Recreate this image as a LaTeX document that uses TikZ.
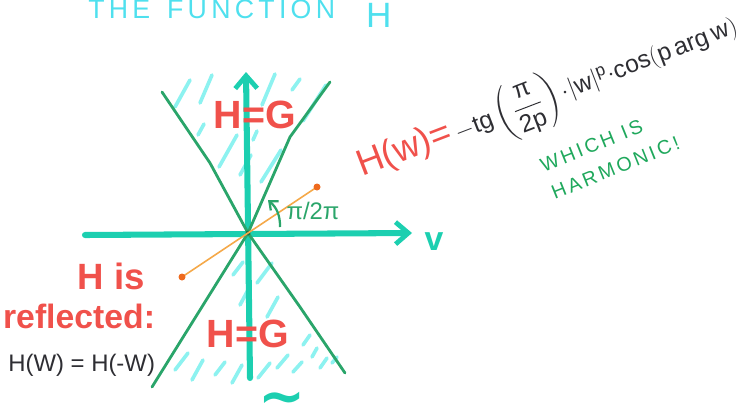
\RequirePackage{fix-cm}
\documentclass[tikz,border=0pt]{standalone}
\usepackage{amsmath}
\usepackage{fontspec}
\setmainfont{Liberation Sans}
\newfontfamily\titlefont[LetterSpace=16]{Liberation Sans}
\newfontfamily\notefont[LetterSpace=15]{Liberation Sans}
\newfontfamily\symfont{DejaVu Sans}
\usetikzlibrary{arrows.meta, positioning}
\definecolor{axisTeal}{HTML}{1CCFB0}
\definecolor{titleCyan}{HTML}{4FE0EE}
\definecolor{hatchCyan}{HTML}{8DF2F0}
\definecolor{coneGreen}{HTML}{2AA56A}
\definecolor{noteGreen}{HTML}{1FA85C}
\definecolor{penRed}{HTML}{F0514B}
\definecolor{penOrange}{HTML}{F5A94A}
\definecolor{dotOrange}{HTML}{EE6A1E}
\definecolor{penBlack}{HTML}{2E2E33}

\begin{document}
\begin{tikzpicture}[
    x=0.025cm, y=-0.025cm,
    axis/.style={draw=axisTeal, line width=4.3pt, line cap=round,
                 -{Straight Barb[length=3.2mm, width=5.5mm, line width=3.4pt]}},
    cone/.style={draw=coneGreen, line width=2pt, line cap=round},
    hatch/.style={draw=hatchCyan, line width=2.6pt, line cap=round},
    ray/.style={draw=penOrange, line width=1.1pt},
    region/.style={text=penRed, font=\bfseries\fontsize{28}{28}\selectfont},
]
\useasboundingbox (0,0) rectangle (740,408);
\clip (0,0) rectangle (740,408);

% Title
\node[text=titleCyan, font=\titlefont\fontsize{19}{22}\selectfont,
      anchor=base west, inner sep=0pt] (title) at (88,18)
    {THE\hspace{12pt}FUNCTION\hspace{22pt}\raisebox{-7pt}{\fontsize{25}{25}\selectfont H}};

% Hatching inside the two cones
\foreach \xa/\ya/\xb/\yb in {175/107/190/80, 200/103/212/75, 198/135/204/124,
    219/167/237/135, 240/175/251/155, 253/140/257/131, 262/105/275/74,
    261/182/281/150, 292/90/300/79, 303/121/326/85}
  \draw[hatch] (\xa,\ya) -- (\xb,\yb);
\foreach \xa/\ya/\xb/\yb in {233/275/243/262, 240/305/248/290, 257/283/272/263,
    267/317/278/297, 175/370/188/353, 192/380/203/360, 215/375/225/362,
    232/383/242/365, 258/378/270/363, 277/368/288/355, 303/345/310/335,
    312/357/317/348, 293/372/302/362, 320/368/327/358, 332/363/337/357}
  \draw[hatch] (\xa,\ya) -- (\xb,\yb);

% Axes
\coordinate (O) at (248,233);
\coordinate (xl) at (85,235);
\coordinate (xr) at (412,233);
\coordinate (yb) at (250,378);
\coordinate (yt) at (246,72);
\draw[axis] (xl) -- (xr);
\draw[axis] (yb) -- (yt);
\node[text=axisTeal, font=\bfseries\fontsize{24}{24}\selectfont] (vlab) at (434,242) {v};
\node[text=axisTeal, font=\symfont\bfseries\fontsize{40}{40}\selectfont] (ulab) at (282,404) {∼};

% Cone boundaries
\draw[cone] (162,92) -- (210,163) -- (O);
\draw[cone] (330,82) -- (290,137) -- (O);
\draw[cone] (O) -- (152,387);
\draw[cone] (O) -- (300,307) -- (345,373);
\fill[coneGreen!70!black] (O) circle (2.5);

% Direction through the origin
\coordinate (p1) at (182,277);
\coordinate (p2) at (317,187);
\draw[ray] (p1) -- (p2);
\fill[dotOrange] (p1) circle (3.5);
\fill[dotOrange] (p2) circle (3.5);

% Angle
\coordinate (a1) at (280,227);
\coordinate (a2) at (268,200);
\draw[draw=coneGreen, line width=1.6pt, -{Straight Barb[length=1.8mm, width=3mm]}]
    (a1) to[bend right=25] (a2);
\node[text=coneGreen, font=\fontsize{17}{17}\selectfont] (ang) at (313,211) {π/2π};

% Region labels
\node[region] (hgup) at (255,115) {H=G};
\node[region] (hgdown) at (248,334) {H=G};

% Formula
\node[rotate=21, anchor=base west, inner sep=0pt] (hw) at (362,177)
    {\textcolor{penRed}{\fontsize{26}{26}\selectfont H(w)=}\hspace{3pt}%
     \textcolor{penBlack}{\fontsize{17.5}{18}\selectfont
     $-\text{tg}\left(\dfrac{\text{π}}{\text{2p}}\right){\cdot}|\text{w}|^{\text{p}}
      {\cdot}\text{cos}(\text{p\,arg\,w})$}};
\node[rotate=22, align=left, text=noteGreen, font=\notefont\fontsize{14}{21}\selectfont]
    (harm) at (610,154) {WHICH IS\\HARMONIC!};

% Reflection note
\node[text=penRed, font=\bfseries\fontsize{26}{26}\selectfont, anchor=base east]
    (his) at (150,289) {H is};
\node[text=penRed, font=\bfseries\fontsize{24}{24}\selectfont, anchor=base east]
    (refl) at (160,328) {reflected:};
\node[text=penBlack, font=\fontsize{17}{17}\selectfont, anchor=base west, inner sep=0pt]
    (sym) at (8,371) {H(W) = H(-W)};
\end{tikzpicture}
\end{document}
